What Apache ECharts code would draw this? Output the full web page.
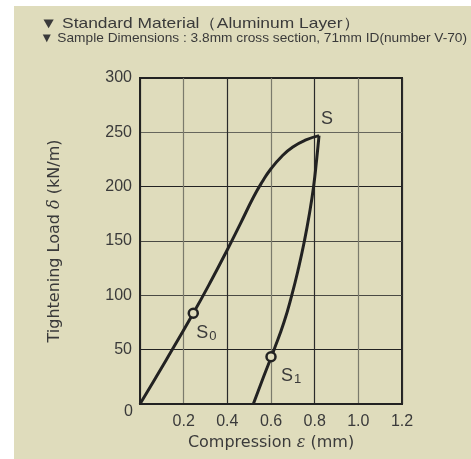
<!DOCTYPE html>
<html>
<head>
<meta charset="utf-8">
<style>
  html, body { margin: 0; padding: 0; background: #ffffff; }
  #wrap { position: relative; width: 471px; height: 459px; background: #ffffff; overflow: hidden; }
  #chart { position: absolute; left: 14px; top: 6px; width: 457px; height: 453px; background: #dfdcbc; }
</style>
</head>
<body>
<div id="wrap"><div id="chart"></div></div>
<script src="https://cdn.jsdelivr.net/npm/echarts@6/dist/echarts.min.js"></script>
<script>
// loading curve (0 -> S)
var loadX = [0, 0.12, 0.244, 0.33, 0.40, 0.46, 0.52, 0.56, 0.60, 0.65, 0.70, 0.76, 0.82];
var loadY = [0, 40.5, 83.5, 115, 142, 166, 190.5, 204.5, 216.5, 228, 236.5, 243, 247];
// unloading curve (S -> back to axis)
var unloadX = [0.82, 0.809, 0.795, 0.776, 0.753, 0.726, 0.695, 0.659, 0.614, 0.566, 0.519];
var unloadY = [247, 225, 200, 175, 150, 125, 100, 75, 50, 25, 0];
// marked points
var markNames = ['S0', 'S1', 'S'];
var markX = [0.244, 0.60, 0.82];
var markY = [83.5, 43.5, 247];

var title1 = '▼ Standard Material（Aluminum Layer）';
var title2 = '▼ Sample Dimensions : 3.8mm cross section, 71mm ID(number V-70)';

var bg = '#dfdcbc';
var ink = '#3a3a3a';
var FONT = '"Liberation Sans", Arial, sans-serif';
var WIDE = '"DejaVu Sans", sans-serif';

function pairs(xs, ys) {
  return xs.map(function (x, i) { return [x, ys[i]]; });
}

// squeeze or stretch a text to a given width
function fitScale(text, font, width) {
  var c = document.createElement('canvas').getContext('2d');
  c.font = font;
  return width / c.measureText(text).width;
}

var markData = markNames.map(function (n, i) {
  var sub = n.length > 1 ? n.slice(1) : '';
  var item = {
    value: [markX[i], markY[i]],
    label: { formatter: sub ? '{s|S}{sub|' + sub + '}' : '{s|S}' }
  };
  if (n === 'S0') { item.label.position = 'bottom'; item.label.offset = [13, 0]; }
  if (n === 'S1') { item.label.position = 'bottom'; item.label.offset = [20, -1]; }
  if (n === 'S') { item.symbolSize = 0; item.label.position = 'top'; item.label.offset = [8, -3]; }
  return item;
});

var t1Font = '15px ' + FONT;
var t2Font = '13px ' + FONT;

var chart = echarts.init(document.getElementById('chart'));
var option = {
  backgroundColor: 'transparent',
  animation: false,
  textStyle: { fontFamily: FONT },
  grid: {
    left: 126, right: 69, top: 72, bottom: 55,
    show: true, borderColor: '#222', borderWidth: 2, backgroundColor: 'transparent'
  },
  xAxis: {
    type: 'value', min: 0, max: 1.2, interval: 0.2,
    name: 'Compression {i|ε} (mm)',
    nameLocation: 'middle', nameGap: 31,
    nameTextStyle: {
      color: ink, fontSize: 16, fontFamily: WIDE,
      rich: { i: { fontStyle: 'italic', fontSize: 16, color: ink, fontFamily: 'DejaVu Serif' } }
    },
    axisLine: { lineStyle: { color: '#222', width: 2 } },
    axisTick: { show: false },
    axisLabel: {
      showMinLabel: false, color: ink, fontSize: 16, margin: 10,
      formatter: function (v) { return v.toFixed(1); }
    },
    splitLine: { show: true, lineStyle: { color: ['#2a2a2a', '#7a7a6c'], width: 1.2 } }
  },
  yAxis: {
    type: 'value', min: 0, max: 300, interval: 50,
    name: 'Tightening Load {i|δ} (kN/m)',
    nameLocation: 'middle', nameGap: 77, nameRotate: 90,
    nameTextStyle: {
      color: ink, fontSize: 16, fontFamily: WIDE,
      rich: { i: { fontStyle: 'italic', fontSize: 16, color: ink, fontFamily: 'DejaVu Serif' } }
    },
    axisLine: { show: true, lineStyle: { color: '#222', width: 2 } },
    axisTick: { show: false },
    axisLabel: { showMinLabel: false, color: ink, fontSize: 16, margin: 8 },
    splitLine: {
      show: true,
      lineStyle: { color: ['#222', '#222', '#4a4a44', '#4a4a44', '#222', '#66665c', '#222'], width: 1.2 }
    }
  },
  graphic: [
    {
      type: 'text', left: 26, top: 10,
      scaleX: fitScale(title1, t1Font, 320),
      style: { text: title1, fill: ink, font: t1Font }
    },
    {
      type: 'text', left: 26, top: 26,
      scaleX: fitScale(title2, t2Font, 427),
      style: { text: title2, fill: ink, font: t2Font }
    },
    {
      type: 'text', left: 110, top: 398,
      style: { text: '0', fill: ink, font: '16px ' + FONT }
    }
  ],
  series: [
    {
      type: 'line', data: pairs(loadX, loadY), smooth: 0.5, symbol: 'none',
      lineStyle: { color: '#222', width: 3 }, z: 3
    },
    {
      type: 'line', data: pairs(unloadX, unloadY), smooth: 0.5, symbol: 'none',
      lineStyle: { color: '#222', width: 3 }, z: 3
    },
    {
      type: 'scatter', data: markData, symbol: 'circle', symbolSize: 9, z: 5,
      itemStyle: { color: bg, borderColor: '#222', borderWidth: 2.5, opacity: 1 },
      label: {
        show: true, color: ink,
        rich: {
          s: { fontSize: 18, color: ink, fontFamily: FONT },
          sub: { fontSize: 13, color: ink, fontFamily: FONT, padding: [6, 0, 0, 1] }
        }
      }
    }
  ]
};
chart.setOption(option);
</script>
</body>
</html>
